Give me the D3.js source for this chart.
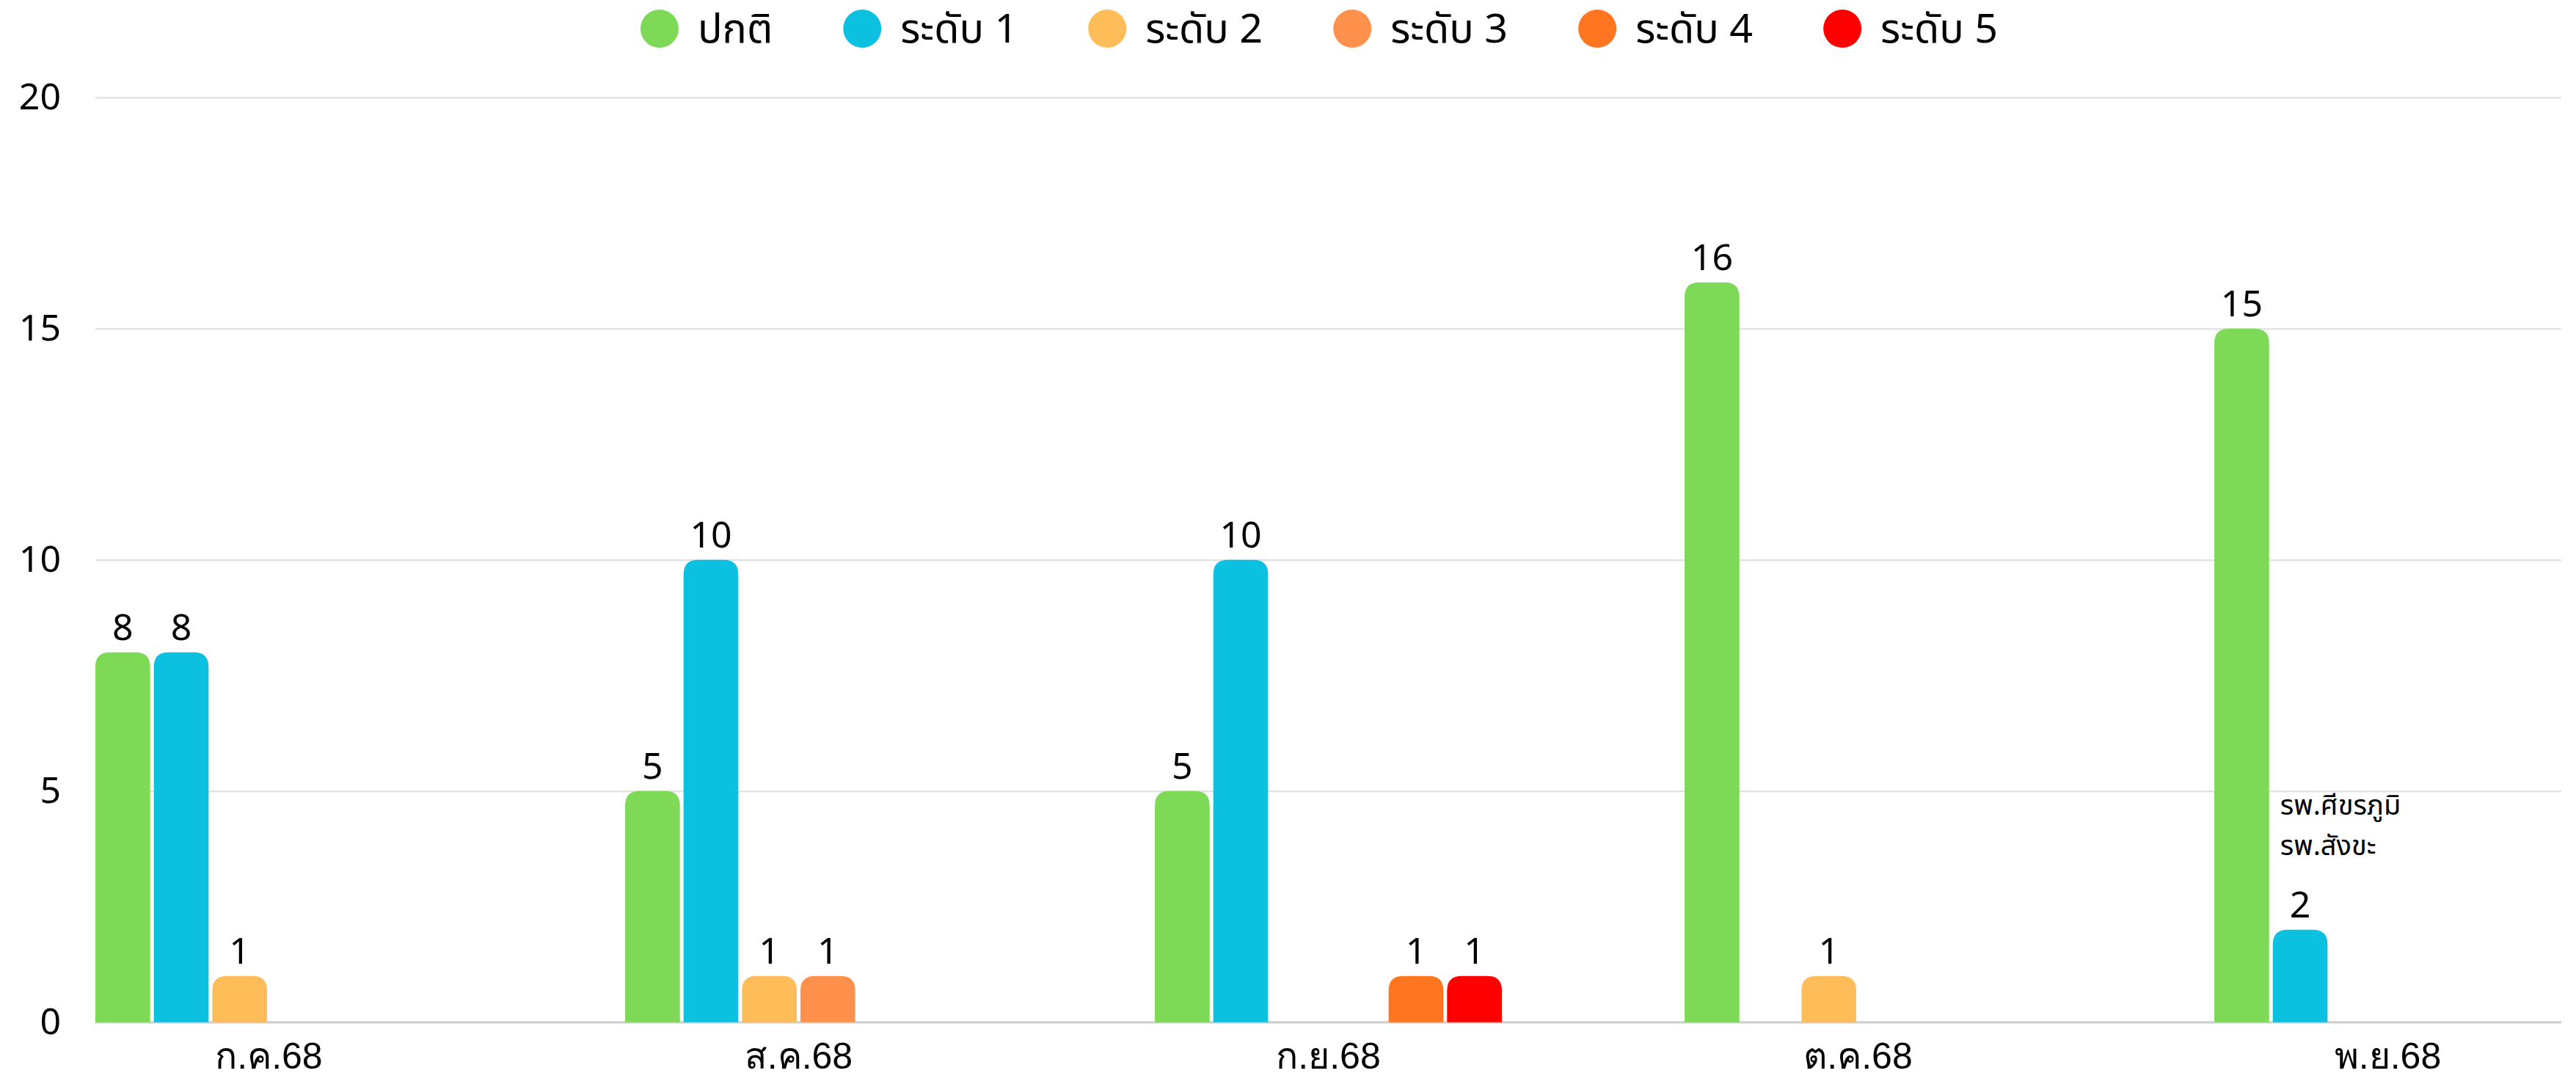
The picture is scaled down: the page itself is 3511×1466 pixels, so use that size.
<!DOCTYPE html>
<html>
<head>
<meta charset="utf-8">
<script src="https://cdn.jsdelivr.net/npm/d3@7"></script>
<style>
	body { margin: 0; background: #fff; }
	svg { display: block; font-family: "Noto Sans Thai", "Noto Sans", sans-serif; }
</style>
</head>
<body>
<svg id="chart"></svg>
<script>
const months = ["ก.ค.68", "ส.ค.68", "ก.ย.68", "ต.ค.68", "พ.ย.68"];
const seriesNames = ["ปกติ", "ระดับ 1", "ระดับ 2", "ระดับ 3", "ระดับ 4", "ระดับ 5"];
const normal = [8, 5, 5, 16, 15];
const level1 = [8, 10, 10, 0, 2];
const level2 = [1, 1, 0, 1, 0];
const level3 = [0, 1, 0, 0, 0];
const level4 = [0, 0, 1, 0, 0];
const level5 = [0, 0, 1, 0, 0];
const yTicks = [0, 5, 10, 15, 20];
const note = ["รพ.ศีขรภูมิ", "รพ.สังขะ"];

const COLOR = ["#7ED957", "#0CC0DF", "#FFBD59", "#FF914D", "#FF7520", "#FF0000"];

const width = 3511;
const height = 1466;
const plotLeft = 130, plotRight = 3491, plotTop = 132.7, plotBottom = 1392.7;

const values = [normal, level1, level2, level3, level4, level5];

const svg = d3.select("#chart")
	.attr("width", width)
	.attr("height", height);

const xScale = d3.scaleBand(months, [plotLeft, plotRight]).paddingInner(0.345).paddingOuter(0);
const xzScale = d3.scaleBand(d3.range(seriesNames.length), [0, xScale.bandwidth()]).paddingInner(0.0625);
const yScale = d3.scaleLinear([0, 20], [plotBottom, plotTop]);
const zScale = d3.scaleOrdinal(d3.range(seriesNames.length), COLOR);

// grid + y labels
svg.append("g")
	.attr("transform", `translate(${plotLeft}, 0)`)
	.call(d3.axisLeft(yScale).tickValues(yTicks).tickSize(-(plotRight - plotLeft)).tickPadding(47))
	.call(g => g.select(".domain").remove())
	.call(g => g.selectAll(".tick line").attr("stroke", "#e3e3e3").attr("stroke-width", 2.5))
	.call(g => g.selectAll(".tick text")
		.attr("font-size", 50)
		.attr("font-family", "Noto Sans, sans-serif")
		.attr("fill", "#000"));

// base line
svg.append("line")
	.attr("x1", plotLeft).attr("x2", plotRight)
	.attr("y1", yScale(0)).attr("y2", yScale(0))
	.attr("stroke", "#cfcfcf").attr("stroke-width", 3);

// bars with round top
function topRounded(x, y, w, h, r) {
	r = Math.min(r, h, w / 2);
	return `M${x},${y + h}V${y + r}Q${x},${y} ${x + r},${y}H${x + w - r}Q${x + w},${y} ${x + w},${y + r}V${y + h}Z`;
}

const cells = [];
months.forEach((m, i) => {
	values.forEach((s, k) => {
		if (s[i] > 0) cells.push({ month: m, k, v: s[i] });
	});
});

svg.append("g")
	.selectAll("path")
	.data(cells)
	.join("path")
	.attr("d", d => topRounded(xScale(d.month) + xzScale(d.k), yScale(d.v), xzScale.bandwidth(), yScale(0) - yScale(d.v), 20))
	.attr("fill", d => zScale(d.k));

svg.append("g")
	.selectAll("text")
	.data(cells)
	.join("text")
	.attr("x", d => xScale(d.month) + xzScale(d.k) + xzScale.bandwidth() / 2)
	.attr("y", d => yScale(d.v) - 17)
	.attr("text-anchor", "middle")
	.attr("font-size", 50)
	.attr("font-family", "Noto Sans, sans-serif")
	.text(d => d.v);

// x axis labels
svg.append("g")
	.attr("transform", `translate(0, ${plotBottom})`)
	.call(d3.axisBottom(xScale).tickSize(0).tickPadding(28))
	.call(g => g.select(".domain").remove())
	.call(g => g.selectAll(".tick text")
		.attr("font-size", 50)
		.attr("fill", "#000"));

// note over the ระดับ 1 bar of the last month
const noteX = xScale(months[4]) + xzScale(1) + 10;
svg.append("g")
	.selectAll("text")
	.data(note)
	.join("text")
	.attr("x", noteX)
	.attr("y", (d, i) => 1110 + i * 55)
	.attr("font-size", 38)
	.text(d => d);

// legend
const legend = svg.append("g").attr("transform", "translate(0, 39)");
const items = legend.selectAll("g")
	.data(seriesNames)
	.join("g");
items.append("circle").attr("r", 26).attr("fill", (d, i) => zScale(i));
const legendText = items.append("text")
	.attr("x", 52)
	.attr("dy", "0.35em")
	.attr("font-size", 48)
	.text(d => d);

// fit the label size so "ระดับ 2" is about 160px wide, as in the source
const probe = legendText.filter((d, i) => i === 2).node().getComputedTextLength();
legendText.attr("font-size", 48 * 160 / probe);

let cx = 0;
const offsets = [];
items.each(function() {
	const w = d3.select(this).select("text").node().getComputedTextLength();
	offsets.push(cx);
	cx += 52 + 26 + w + 96;
});
const total = cx - 96;
const start = 1798 - total / 2 + 26;
items.attr("transform", (d, i) => `translate(${start + offsets[i]}, 0)`);
</script>
</body>
</html>
